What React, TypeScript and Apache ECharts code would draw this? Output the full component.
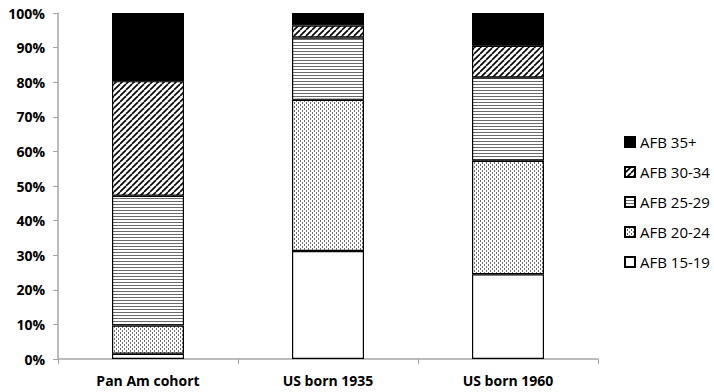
import React, { useEffect, useRef } from "react";
import * as echarts from "echarts";

const categories = ["Pan Am cohort", "US born 1935", "US born 1960"];
const afb1519 = [1.5, 31.2, 24.5];
const afb2024 = [8.2, 43.7, 32.8];
const afb2529 = [37.5, 18.0, 24.1];
const afb3034 = [33.1, 3.5, 9.1];
const afb35 = [19.7, 3.6, 9.5];
const seriesNames = ["AFB 15-19", "AFB 20-24", "AFB 25-29", "AFB 30-34", "AFB 35+"];
const legendOrder = ["AFB 35+", "AFB 30-34", "AFB 25-29", "AFB 20-24", "AFB 15-19"];
const yTicks = [0, 10, 20, 30, 40, 50, 60, 70, 80, 90, 100];

function makePattern(kind: string): string {
  const c = document.createElement("canvas");
  const ctx = c.getContext("2d")!;
  if (kind === "dots") {
    c.width = 4; c.height = 4;
    ctx.fillStyle = "#fff"; ctx.fillRect(0, 0, 4, 4);
    ctx.fillStyle = "#6e6e6e";
    ctx.fillRect(0, 0, 1, 2);
    ctx.fillRect(2, 2, 1, 2);
  } else if (kind === "hlines") {
    c.width = 4; c.height = 3;
    ctx.fillStyle = "#fff"; ctx.fillRect(0, 0, 4, 3);
    ctx.fillStyle = "#6a6a6a";
    ctx.fillRect(0, 0, 4, 1);
  } else if (kind === "diag") {
    c.width = 6; c.height = 6;
    ctx.fillStyle = "#fff"; ctx.fillRect(0, 0, 6, 6);
    ctx.strokeStyle = "#000"; ctx.lineWidth = 1.6;
    for (const off of [-6, 0, 6]) {
      ctx.beginPath();
      ctx.moveTo(off, 6);
      ctx.lineTo(off + 6, 0);
      ctx.stroke();
    }
  }
  return c.toDataURL();
}

export default function App() {
  const ref = useRef<HTMLDivElement>(null);
  useEffect(() => {
    if (!ref.current) return;
    const chart = echarts.init(ref.current, null, { renderer: "svg" });
    const fills: any[] = [
      "#ffffff",
      { image: makePattern("dots"), repeat: "repeat" },
      { image: makePattern("hlines"), repeat: "repeat" },
      { image: makePattern("diag"), repeat: "repeat" },
      "#000000",
    ];
    const dataArr = [afb1519, afb2024, afb2529, afb3034, afb35];
    const font = "'Open Sans', 'Liberation Sans', sans-serif";
    chart.setOption({
      animation: false,
      backgroundColor: "#ffffff",
      grid: { left: 58, right: 116, top: 13, bottom: 33, containLabel: false },
      legend: {
        data: legendOrder,
        orient: "vertical",
        left: 619,
        top: 129,
        itemWidth: 10,
        itemHeight: 10,
        itemGap: 14,
        icon: "rect",
        textStyle: { fontFamily: font, fontSize: 15, color: "#000", lineHeight: 16 },
      },
      xAxis: {
        type: "category",
        data: categories,
        axisLine: { lineStyle: { color: "#a6a6a6", width: 1.5 } },
        axisTick: { show: true, length: 5, lineStyle: { color: "#a6a6a6" } },
        axisLabel: { fontFamily: font, fontSize: 14, fontWeight: "bold", color: "#000", margin: 14 },
      },
      yAxis: {
        type: "value",
        min: 0,
        max: 100,
        interval: 10,
        splitLine: { show: false },
        axisLine: { show: true, lineStyle: { color: "#a6a6a6", width: 1.5 } },
        axisTick: { show: true, length: 5, lineStyle: { color: "#a6a6a6" } },
        axisLabel: {
          fontFamily: font,
          fontSize: 14,
          fontWeight: "bold",
          color: "#000",
          margin: 13,
          formatter: (v: number) => (yTicks.includes(v) ? v + "%" : ""),
        },
      },
      series: seriesNames.map((name, i) => ({
        name,
        type: "bar",
        stack: "total",
        barWidth: "40%",
        data: dataArr[i],
        itemStyle: { color: fills[i], borderColor: "#000", borderWidth: 1.2 },
      })),
    });
    return () => chart.dispose();
  }, []);
  return <div ref={ref} style={{ width: 714, height: 392, position: "absolute", left: 0, top: 0 }} />;
}
